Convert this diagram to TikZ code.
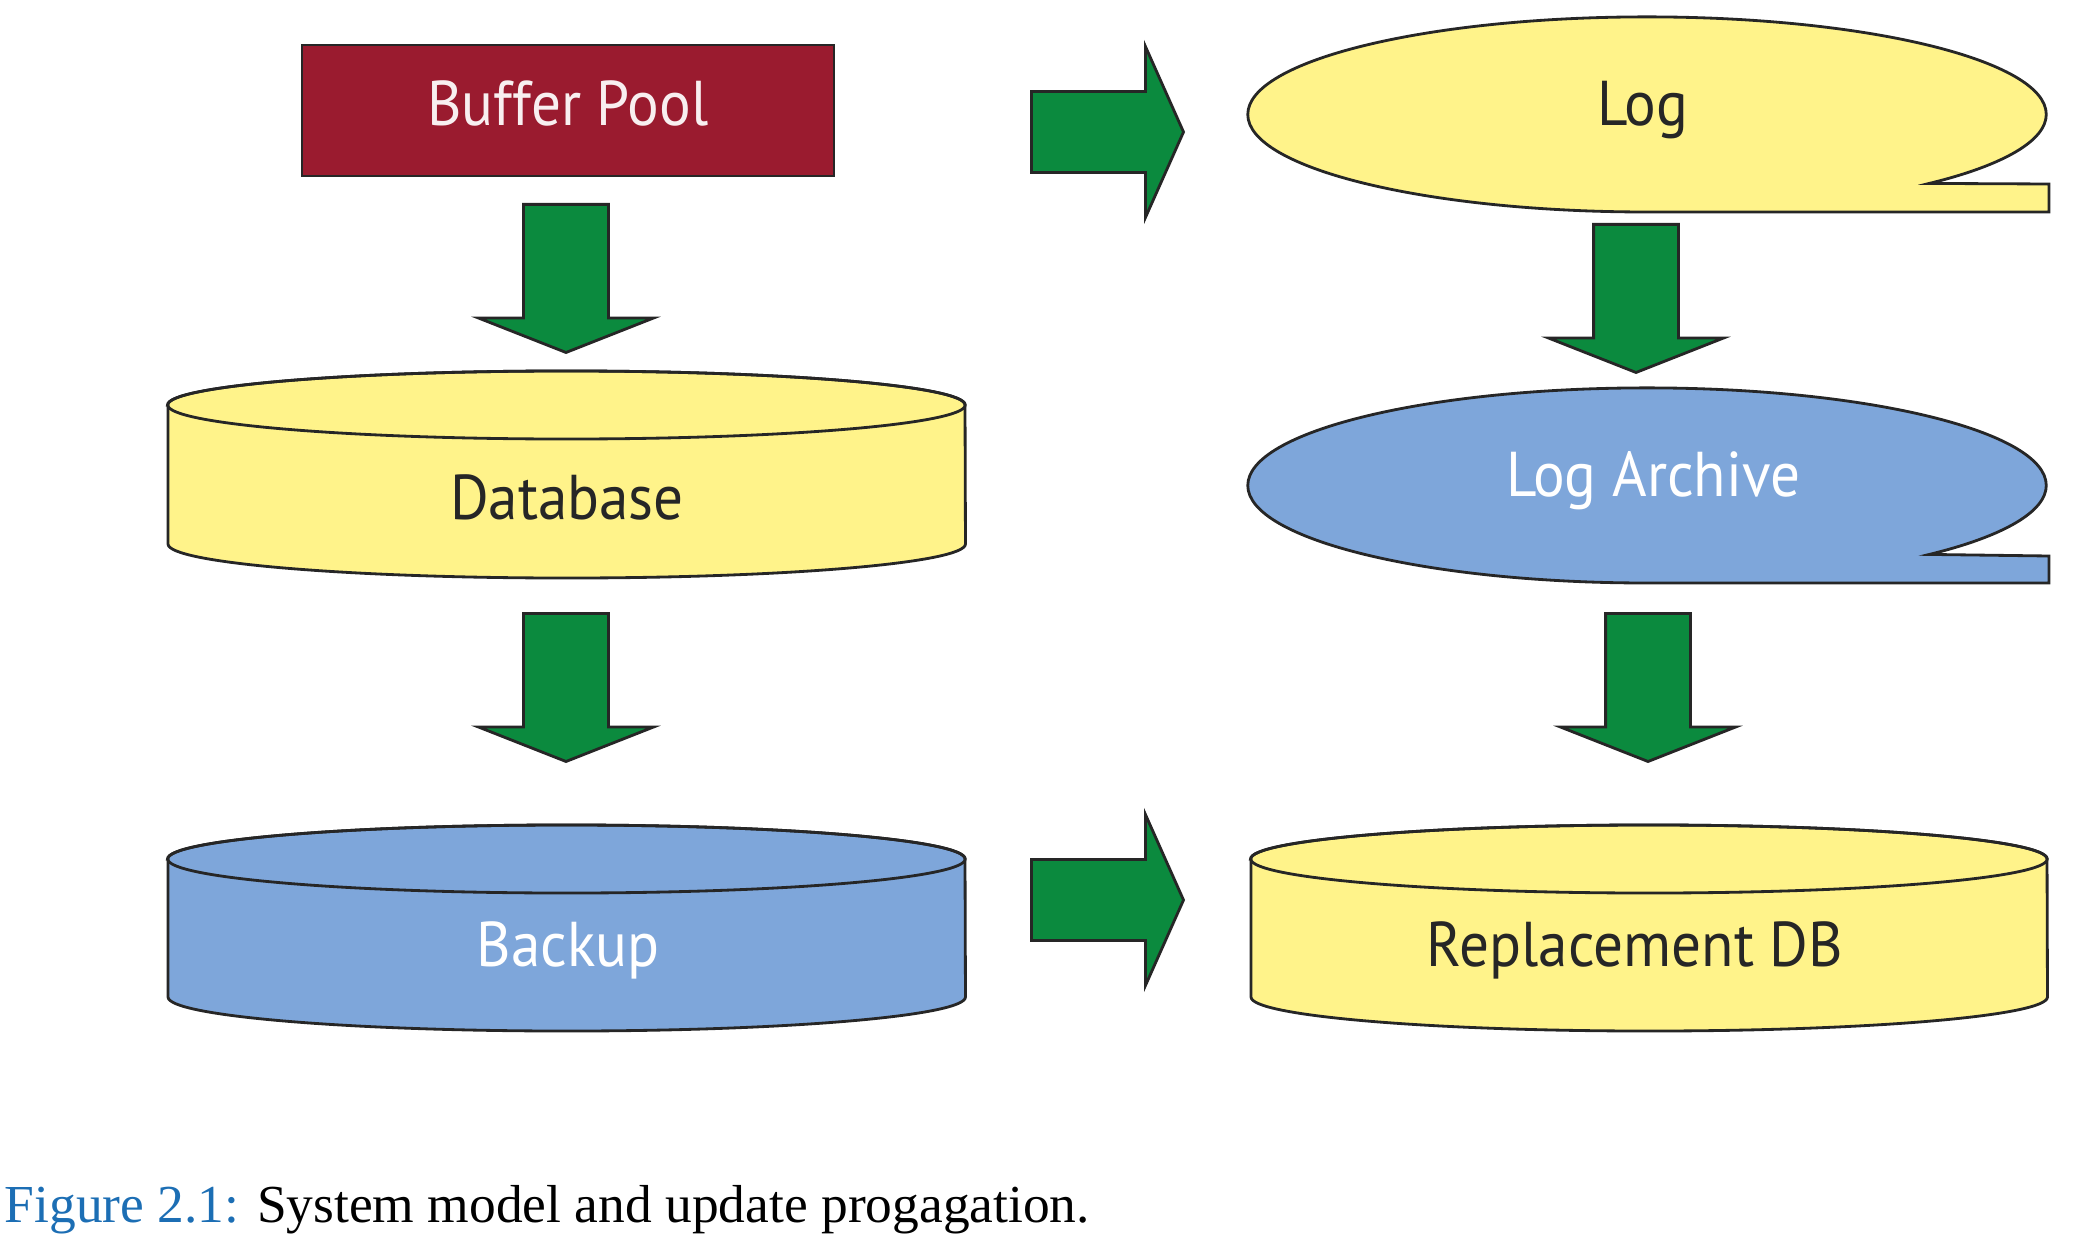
\documentclass[tikz,border=0pt]{standalone}
\usepackage{fontspec}
\setmainfont{Liberation Serif}
\setsansfont{PT Sans}[FakeStretch=0.935]
\usepackage[HTML]{xcolor}
\usepackage{tikz}
\usetikzlibrary{positioning, arrows, arrows.meta, shapes.arrows}
\definecolor{poolred}{HTML}{9A1B2F}
\definecolor{dbyellow}{HTML}{FFF38A}
\definecolor{dbblue}{HTML}{7EA6DA}
\definecolor{arrowgreen}{HTML}{0B8A3E}
\definecolor{capblue}{HTML}{1C6EB4}

\begin{document}
\begin{tikzpicture}[x=0.01cm, y=0.01cm,
  outline/.style={draw=black!85, line width=0.8pt},
  label/.style={font=\sffamily\fontsize{18}{20}\selectfont, text=black!85},
  downarrow/.style={single arrow, outline, fill=arrowgreen, rotate=-90, anchor=tail,
    inner xsep=0pt, inner ysep=0.41cm, minimum height=1.48cm,
    single arrow head extend=0.45cm, single arrow tip angle=137},
  rightarrow/.style={single arrow, outline, fill=arrowgreen, anchor=tail,
    inner xsep=0pt, inner ysep=0.39cm, minimum height=1.52cm,
    single arrow head extend=0.45cm, single arrow tip angle=132}]
\useasboundingbox (0,0) rectangle (2080,-1255);
% buffer pool
\draw[outline, fill=poolred] (302,-45) rectangle (834,-176);
\node[label, text=white!93!poolred] (pool) at (568,-103) {Buffer Pool};
% database cylinder
\draw[outline, fill=dbyellow] (168,-405) -- (168,-544) arc[start angle=180, end angle=360, x radius=3.985cm, y radius=0.34cm] -- (965,-405) arc[start angle=0, end angle=180, x radius=3.985cm, y radius=0.34cm] -- cycle;
\draw[outline] (566.5,-405) ellipse [x radius=3.985cm, y radius=0.34cm];
\node[label] (db) at (567,-497) {Database};
% backup cylinder
\draw[outline, fill=dbblue] (168,-859) -- (168,-997) arc[start angle=180, end angle=360, x radius=3.985cm, y radius=0.34cm] -- (965,-859) arc[start angle=0, end angle=180, x radius=3.985cm, y radius=0.34cm] -- cycle;
\draw[outline] (566.5,-859) ellipse [x radius=3.985cm, y radius=0.34cm];
\node[label, text=white] (backup) at (568,-950) {Backup};
% log (tape)
\draw[outline, fill=dbyellow] (1647,-212) arc[start angle=270, end angle=-45, x radius=3.99cm, y radius=0.975cm] -- (2049,-184) -- (2049,-212) -- cycle;
\node[label] (log) at (1643,-110) {Log};
% log archive (tape)
\draw[outline, fill=dbblue] (1647,-583) arc[start angle=270, end angle=-45, x radius=3.99cm, y radius=0.975cm] -- (2049,-556) -- (2049,-583) -- cycle;
\node[label, text=white] (archive) at (1653,-481) {Log Archive};
% replacement db cylinder
\draw[outline, fill=dbyellow] (1251,-859) -- (1251,-997) arc[start angle=180, end angle=360, x radius=3.98cm, y radius=0.34cm] -- (2047,-859) arc[start angle=0, end angle=180, x radius=3.98cm, y radius=0.34cm] -- cycle;
\draw[outline] (1649,-859) ellipse [x radius=3.98cm, y radius=0.34cm];
\node[label] (repl) at (1635,-950) {Replacement DB};
% propagation arrows
\node[downarrow] (pooltodb) at (566,-203) {};
\node[downarrow] (dbtobackup) at (566,-612) {};
\node[downarrow] (logtoarchive) at (1636,-223) {};
\node[downarrow] (archivetorepl) at (1648,-612) {};
\node[rightarrow] (pooltolog) at (1030,-132) {};
\node[rightarrow] (backuptorepl) at (1030,-900) {};
% caption
\node[anchor=base west, inner sep=0pt, font=\fontsize{15.2}{18}\selectfont] (caption) at (4,-1222) {\textcolor{capblue}{Figure 2.1:} System model and update progagation.};
\end{tikzpicture}
\end{document}
